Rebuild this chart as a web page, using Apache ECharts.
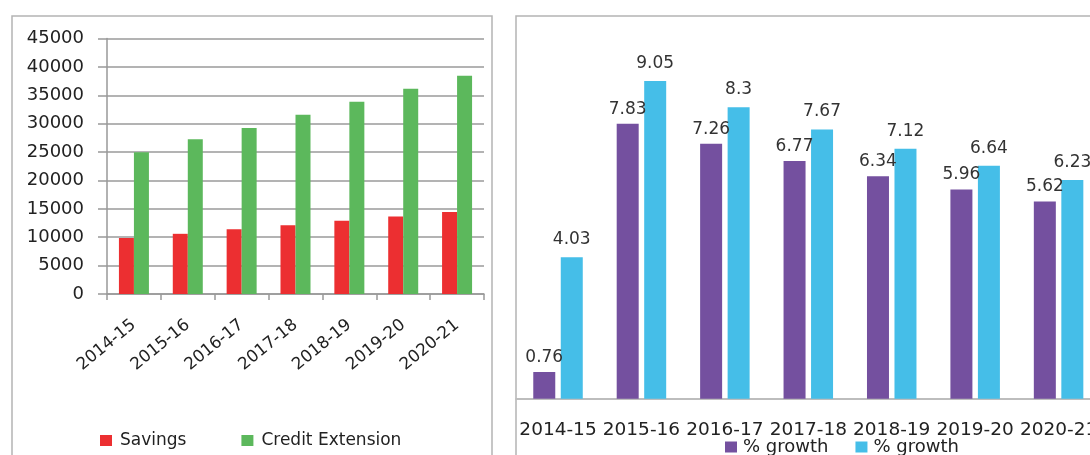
<!DOCTYPE html>
<html>
<head>
<meta charset="utf-8">
<script src="https://cdn.jsdelivr.net/npm/echarts@6/dist/echarts.min.js"></script>
<style>
  html, body { margin: 0; padding: 0; background: #fff; }
  #main { width: 1090px; height: 455px; }
</style>
</head>
<body>
<div id="main"></div>
<script>
// years
const years = ['2014-15', '2015-16', '2016-17', '2017-18', '2018-19', '2019-20', '2020-21'];

// left chart: amounts
const savings = [9860, 10600, 11390, 12100, 12920, 13640, 14440];
const creditExtension = [24950, 27240, 29250, 31580, 33880, 36160, 38460];

// right chart: % growth
const savingsGrowth = [0.76, 7.83, 7.26, 6.77, 6.34, 5.96, 5.62];
const creditGrowth = [4.03, 9.05, 8.3, 7.67, 7.12, 6.64, 6.23];

const font = 'DejaVu Sans, Verdana, sans-serif';
const textColor = '#222';

let chart = echarts.init(document.getElementById('main'));

const option = {
  backgroundColor: '#fff',
  animation: false,
  graphic: [
    // panel borders
    { type: 'rect', shape: { x: 12, y: 16, width: 480, height: 460 },
      style: { fill: 'none', stroke: '#b4b4b4', lineWidth: 1.5 } },
    { type: 'rect', shape: { x: 516, y: 16, width: 600, height: 460 },
      style: { fill: 'none', stroke: '#b4b4b4', lineWidth: 1.5 } }
  ],
  legend: [
    {
      left: 95,
      top: 427,
      icon: 'rect',
      itemWidth: 12,
      itemHeight: 11,
      itemGap: 55,
      data: ['Savings', 'Credit Extension'],
      textStyle: { fontFamily: font, fontSize: 17, color: textColor, padding: [0, 0, 0, 3] }
    },
    {
      left: 720,
      top: 433,
      icon: 'rect',
      itemWidth: 12,
      itemHeight: 11,
      itemGap: 27,
      data: ['Savings growth', 'Credit growth'],
      formatter: function () { return '% growth'; },
      textStyle: { fontFamily: font, fontSize: 18, color: textColor, padding: [0, 0, 0, 1] }
    }
  ],
  grid: [
    { left: 107, top: 38.5, width: 377, height: 255.5, outerBoundsMode: 'none' },
    { left: 516.3, top: 47.7, width: 584, height: 351, outerBoundsMode: 'none' }
  ],
  xAxis: [
    {
      type: 'category',
      gridIndex: 0,
      data: years,
      axisLine: { lineStyle: { color: '#999', width: 1.5 } },
      axisTick: { show: true, length: 6, lineStyle: { color: '#999', width: 1.5 } },
      axisLabel: {
        interval: 0, rotate: 39, margin: 29,
        fontFamily: font, fontSize: 16.8, color: textColor
      }
    },
    {
      type: 'category',
      gridIndex: 1,
      data: years,
      axisLine: { lineStyle: { color: '#bdbdbd', width: 2 } },
      axisTick: { show: false },
      axisLabel: {
        interval: 0, margin: 22,
        fontFamily: font, fontSize: 18.5, color: textColor
      }
    }
  ],
  yAxis: [
    {
      type: 'value',
      gridIndex: 0,
      min: 0,
      max: 45000,
      interval: 5000,
      axisLine: { show: true, lineStyle: { color: '#999', width: 1.5 } },
      axisTick: { show: true, length: 9, lineStyle: { color: '#999', width: 1.5 } },
      splitLine: { lineStyle: { color: '#9a9a9a', width: 1.5 } },
      axisLabel: {
        margin: 23, fontFamily: font, fontSize: 18, color: textColor,
        formatter: function (v) { return String(v); }
      }
    },
    {
      type: 'value',
      gridIndex: 1,
      min: 0,
      max: 10,
      show: false,
      splitLine: { show: false }
    }
  ],
  series: [
    {
      name: 'Savings',
      type: 'bar',
      xAxisIndex: 0, yAxisIndex: 0,
      data: savings,
      barWidth: 15,
      barGap: '0%',
      itemStyle: { color: '#ec2f31' }
    },
    {
      name: 'Credit Extension',
      type: 'bar',
      xAxisIndex: 0, yAxisIndex: 0,
      data: creditExtension,
      barWidth: 15,
      barGap: '0%',
      itemStyle: { color: '#5cb85c' }
    },
    {
      name: 'Savings growth',
      type: 'bar',
      xAxisIndex: 1, yAxisIndex: 1,
      data: savingsGrowth,
      barWidth: 22,
      barGap: '25%',
      itemStyle: { color: '#74509f' },
      label: {
        show: true, position: 'top', distance: 6,
        fontFamily: font, fontSize: 17, color: '#333'
      }
    },
    {
      name: 'Credit growth',
      type: 'bar',
      xAxisIndex: 1, yAxisIndex: 1,
      data: creditGrowth,
      barWidth: 22,
      barGap: '25%',
      itemStyle: { color: '#45bee8' },
      label: {
        show: true, position: 'top', distance: 9,
        fontFamily: font, fontSize: 17, color: '#333'
      }
    }
  ]
};

chart.setOption(option);
</script>
</body>
</html>
